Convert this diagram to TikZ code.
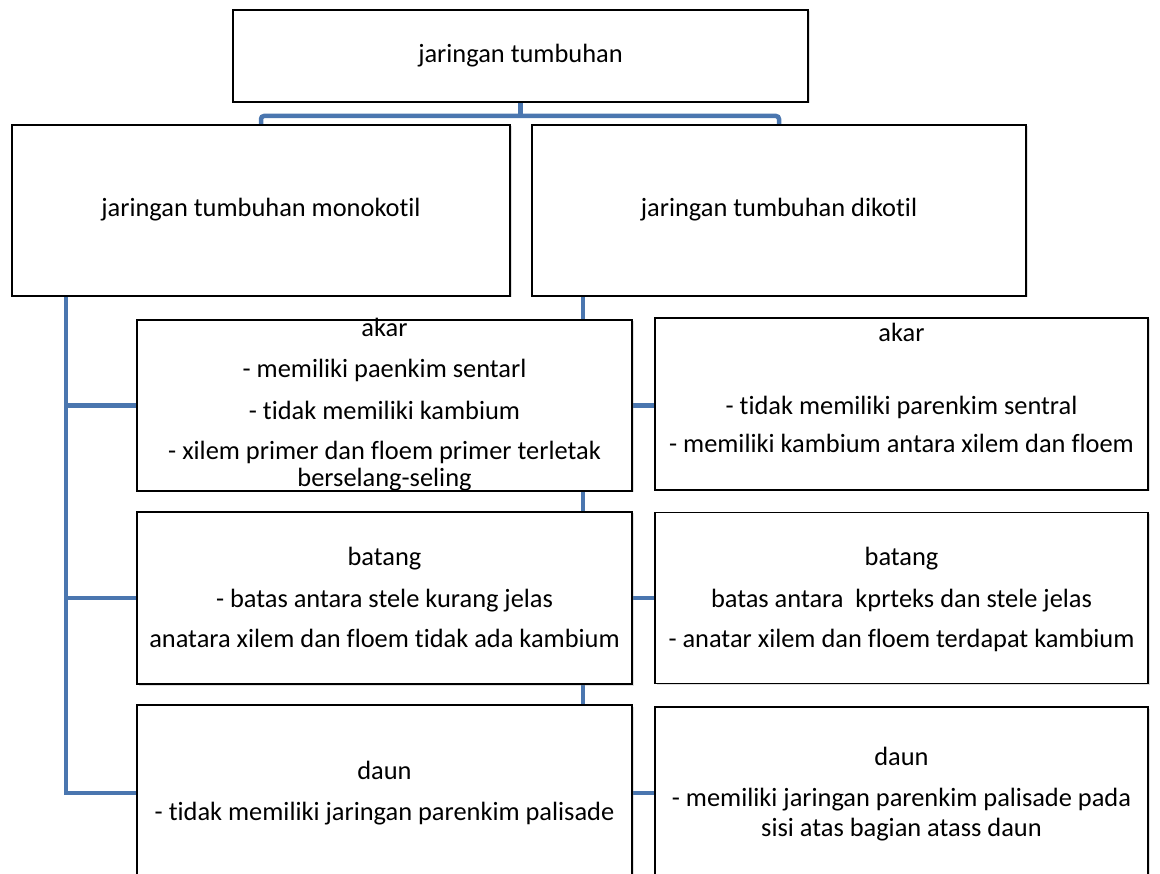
\documentclass[tikz,border=0pt]{standalone}
\usepackage{fontspec}
\setmainfont{Carlito}[Ligatures={NoCommon}]
\usetikzlibrary{shadows,backgrounds}
\definecolor{linkblue}{RGB}{74,118,175}
\begin{document}
\begin{tikzpicture}[x=1pt,y=-1pt,
  box/.style={draw=black, line width=1.7pt, fill=white, rectangle, inner sep=0pt,
    drop shadow={shadow xshift=1.5pt, shadow yshift=-1.5pt, opacity=0.25}},
  link/.style={draw=linkblue, line width=4.5pt},
  txt/.style={anchor=base, inner sep=0pt, font=\fontsize{26.4}{30}\selectfont}]
\useasboundingbox (0,0) rectangle (1160,874);
\clip (0,0) rectangle (1160,874);

% boxes
\node[box, minimum width=575pt, minimum height=92pt]  (top)  at (520.5,56)  {};
\node[box, minimum width=498pt, minimum height=171pt] (mono) at (261,210.5) {};
\node[box, minimum width=494pt, minimum height=171pt] (dik)  at (779,210.5) {};
\node[box, minimum width=495pt, minimum height=171pt] (l1)   at (384.5,405.5) {};
\node[box, minimum width=493pt, minimum height=172pt] (r1)   at (901.5,404) {};
\node[box, minimum width=495pt, minimum height=172pt] (l2)   at (384.5,598) {};
\node[box, minimum width=493pt, minimum height=171pt] (r2)   at (901.5,598) {};
\node[box, minimum width=495pt, minimum height=176pt] (l3)   at (384.5,793) {};
\node[box, minimum width=493pt, minimum height=174pt] (r3)   at (901.5,794) {};

% connectors
\coordinate (jy) at (0,116);
\coordinate (lx) at (66,0);
\coordinate (cx) at (583,0);
\begin{scope}[on background layer]
  \draw[link] (top.south) -- (top.south |- jy);
  \draw[link, rounded corners=3pt] (mono.north) |- (top.south |- jy) -| (dik.north);
  \draw[link] (mono.south -| lx) -- (l3.west -| lx) -- (l3.west);
  \draw[link] (l1.west -| lx) -- (l1.west);
  \draw[link] (l2.west -| lx) -- (l2.west);
  \draw[link] (dik.south -| cx) -- (l1.north -| cx);
  \draw[link] (l1.south -| cx) -- (l2.north -| cx);
  \draw[link] (l2.south -| cx) -- (l3.north -| cx);
  \draw[link] (l1.east) -- (r1.west |- l1.east);
  \draw[link] (l2.east) -- (r2.west |- l2.east);
  \draw[link] (l3.east) -- (r3.west |- l3.east);
\end{scope}

% texts
\node[txt] (t0) at (520.5,63) {jaringan tumbuhan};
\node[txt] (tm) at (261,217) {jaringan tumbuhan monokotil};
\node[txt] (td) at (779,217) {jaringan tumbuhan dikotil};

\node[txt] (l1a) at (384.5,337) {akar};
\node[txt] (l1b) at (384.5,378) {- memiliki paenkim sentarl};
\node[txt] (l1c) at (384.5,420) {- tidak memiliki kambium};
\node[txt] (l1d) at (384.5,460) {- xilem primer dan floem primer terletak};
\node[txt] (l1e) at (384.5,487) {berselang-seling};

\node[txt] (r1a) at (901.5,342) {akar};
\node[txt] (r1b) at (901.5,415) {- tidak memiliki parenkim sentral};
\node[txt] (r1c) at (901.5,453) {- memiliki kambium antara xilem dan floem};

\node[txt] (l2a) at (384.5,565) {batang};
\node[txt] (l2b) at (384.5,607) {- batas antara stele kurang jelas};
\node[txt] (l2c) at (384.5,647) {anatara xilem dan floem tidak ada kambium};

\node[txt] (r2a) at (901.5,565) {batang};
\node[txt] (r2b) at (901.5,607) {batas antara\ \ kprteks dan stele jelas};
\node[txt] (r2c) at (901.5,647) {- anatar xilem dan floem terdapat kambium};

\node[txt] (l3a) at (384.5,779) {daun};
\node[txt] (l3b) at (384.5,820) {- tidak memiliki jaringan parenkim palisade};

\node[txt] (r3a) at (901.5,765) {daun};
\node[txt] (r3b) at (901.5,806) {- memiliki jaringan parenkim palisade pada};
\node[txt] (r3c) at (901.5,836) {sisi atas bagian atass daun};
\end{tikzpicture}
\end{document}
